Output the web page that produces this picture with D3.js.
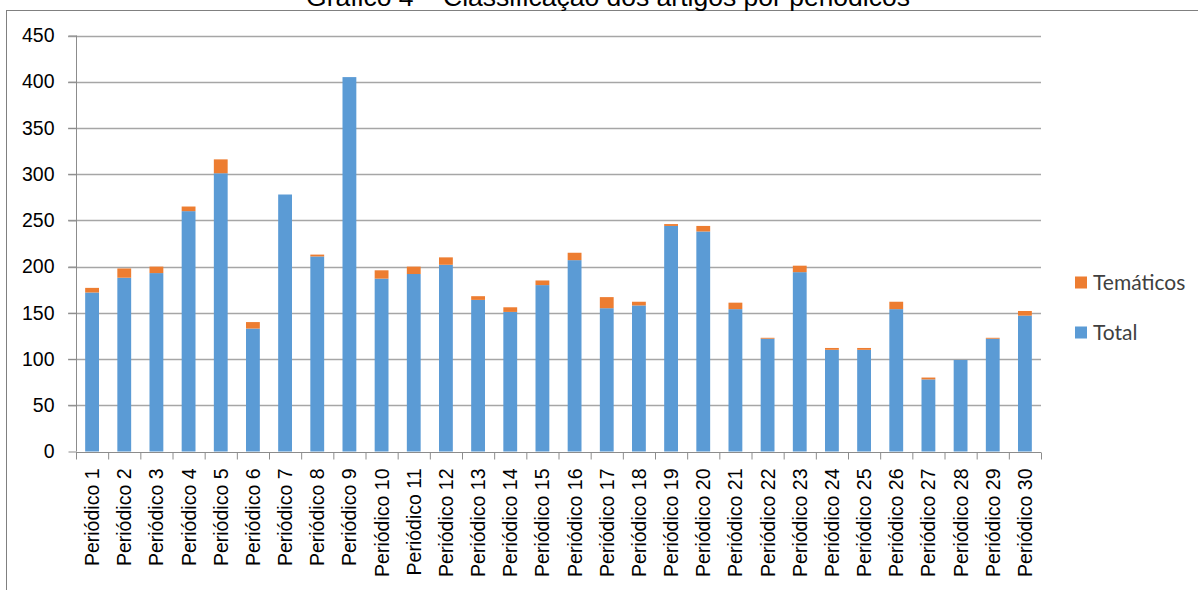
<!DOCTYPE html>
<head>
    <meta charset="utf-8">
    <title>Gráfico 4 – Classificação dos artigos por periódicos</title>
    <script src="https://d3js.org/d3.v7.min.js"></script>
    <style>
      body { margin: 0; background: #fff; }
      svg { display: block; }
      .axis text { font-family: "Liberation Sans", Arial, sans-serif; fill: #000; }
    </style>
</head>

<body>
    <svg width=1198 height=590></svg>
</body>

<script>

// values
const categories = d3.range(1, 31).map(i => "Periódico " + i);
const total = [172, 188, 193, 260, 301, 133, 278, 211, 405, 187,
               192, 202, 164, 151, 180, 207, 155, 158, 244, 238,
               154, 122, 194, 110, 110, 154, 78, 99, 122, 147];
const tematicos = [5, 10, 7, 5, 15, 7, 0, 2, 0, 9,
                   8, 8, 4, 5, 5, 8, 12, 4, 2, 6,
                   7, 1, 7, 2, 2, 8, 2, 0, 1, 5];
const yTicks = [0, 50, 100, 150, 200, 250, 300, 350, 400, 450];
const seriesNames = ["Total", "Temáticos"];
const colors = ["#5b9bd5", "#ed7d31"];

const table = categories.map((c, i) => ({cat: c, Total: total[i], "Temáticos": tematicos[i]}));

const svg = d3.select("svg");
const plotLeft = 76, plotRight = 1041, plotTop = 35.5, plotBottom = 451.5;

// outer frame
svg.append("rect")
  .attr("x", 6.5).attr("y", 10.5)
  .attr("width", 1300).attr("height", 700)
  .attr("fill", "none").attr("stroke", "#808080");

svg.append("text")
  .attr("x", 608).attr("y", 6)
  .attr("text-anchor", "middle")
  .attr("font-family", "Liberation Sans, Arial, sans-serif")
  .attr("font-size", "26.5px")
  .attr("fill", "#000")
  .text("Gráfico 4 – Classificação dos artigos por periódicos");

const x = d3.scaleBand().domain(categories).range([plotLeft, plotRight])
  .paddingInner(0.57).paddingOuter(0.285);
const y = d3.scaleLinear().domain([0, 450]).range([plotBottom, plotTop]);

// gridlines
svg.append("g")
  .selectAll("line")
  .data(yTicks.slice(1))
  .join("line")
  .attr("x1", plotLeft - 8).attr("x2", plotRight)
  .attr("y1", d => Math.round(y(d)) + 0.5).attr("y2", d => Math.round(y(d)) + 0.5)
  .attr("stroke", "#a6a6a6").attr("stroke-width", 1.3);

// stacked bars
const stacked = d3.stack().keys(seriesNames)(table);
svg.append("g")
  .selectAll("g")
  .data(stacked)
  .join("g")
  .attr("fill", (d, i) => colors[i])
  .selectAll("rect")
  .data(d => d)
  .join("rect")
  .attr("x", d => x(d.data.cat))
  .attr("width", x.bandwidth())
  .attr("y", d => y(d[1]))
  .attr("height", d => y(d[0]) - y(d[1]));

// y axis
const yAxis = svg.append("g")
  .attr("class", "axis")
  .attr("transform", `translate(${plotLeft + 0.5},0)`)
  .call(d3.axisLeft(y).tickValues(yTicks).tickSize(8).tickPadding(14));
yAxis.selectAll("text").attr("font-size", "19.5px");
yAxis.selectAll("line, path").attr("stroke", "#8c8c8c");
yAxis.select(".domain").attr("d", `M0,${plotTop}V${plotBottom}`);

// x axis: boundary ticks
const xb = d3.scaleLinear().domain([0, categories.length]).range([plotLeft, plotRight]);
const xTicks = svg.append("g")
  .attr("transform", `translate(0,${Math.round(plotBottom) + 0.5})`)
  .call(d3.axisBottom(xb).tickValues(d3.range(categories.length + 1)).tickSize(7).tickFormat(""));
xTicks.selectAll("line, path").attr("stroke", "#8c8c8c");
xTicks.select(".domain").attr("d", `M${plotLeft},0H${plotRight}`);

// x axis labels
const xAxis = svg.append("g")
  .attr("class", "axis")
  .attr("transform", `translate(0,${plotBottom})`)
  .call(d3.axisBottom(x).tickSize(0));
xAxis.select(".domain").remove();
xAxis.selectAll("text")
  .attr("font-size", "19.5px")
  .attr("text-anchor", "end")
  .attr("transform", "rotate(-90)")
  .attr("x", -17)
  .attr("y", 7)
  .attr("dy", null);

// legend
const legend = svg.append("g")
  .selectAll("g")
  .data(["Temáticos", "Total"])
  .join("g")
  .attr("transform", (d, i) => `translate(1075,${276.5 + i * 50})`);
legend.append("rect")
  .attr("width", 12).attr("height", 12)
  .attr("fill", d => colors[seriesNames.indexOf(d)]);
legend.append("text")
  .attr("x", 18).attr("y", 6)
  .attr("dy", "0.36em")
  .attr("font-family", "Lato, 'Open Sans', sans-serif")
  .attr("font-size", "21px")
  .attr("fill", "#404040")
  .text(d => d);

</script>
